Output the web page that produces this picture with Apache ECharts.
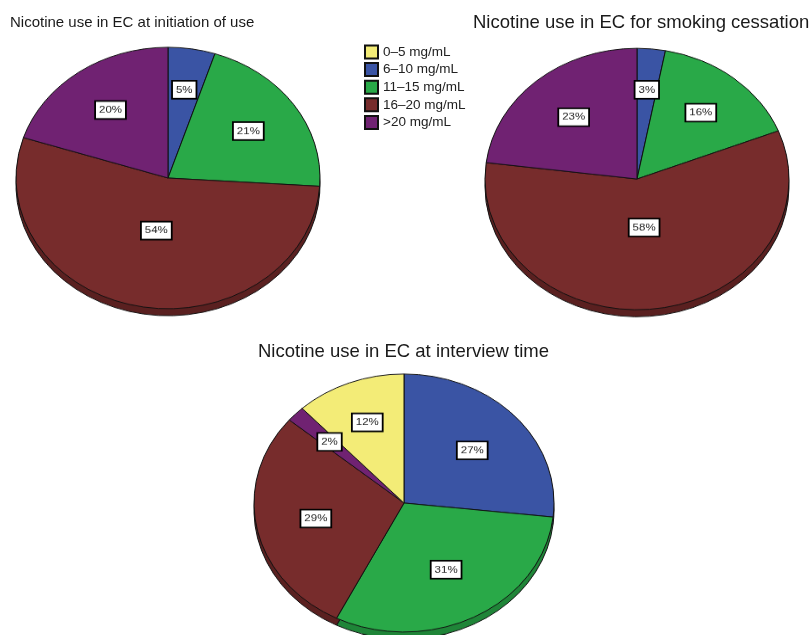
<!DOCTYPE html>
<html>
<head>
<meta charset="utf-8">
<script src="https://cdn.jsdelivr.net/npm/echarts@6/dist/echarts.min.js"></script>
<style>
  html, body { margin: 0; padding: 0; background: #fff; }
  #wrap { position: relative; width: 811px; height: 635px; overflow: hidden; }
  #base { position: absolute; left: 0; top: 0; width: 811px; height: 635px; }
  #pies { position: absolute; left: 0; top: 0; width: 811px; transform-origin: 0 0; }
</style>
</head>
<body>
<div id="wrap">
  <div id="base"></div>
  <div id="pies"></div>
</div>
<script>
// Nicotine concentration groups (legend order)
const categories = ['0–5 mg/mL', '6–10 mg/mL', '11–15 mg/mL', '16–20 mg/mL', '>20 mg/mL'];

// Percent of users in each group, same order as categories
const initiationValues = [0, 5, 21, 54, 20];
const cessationValues  = [0, 3, 16, 58, 23];
const interviewValues  = [12, 27, 31, 29, 2];

const titles = [
  'Nicotine use in EC at initiation of use',
  'Nicotine use in EC for smoking cessation',
  'Nicotine use in EC at interview time'
];

// Slices run clockwise from 12 o'clock in this group order
const sliceOrder = [1, 2, 3, 4, 0];

const colors    = ['#f3ec77', '#3a54a4', '#29a948', '#772c2c', '#702272'];
const rimColors = ['#c9c260', '#2c4080', '#1f8538', '#5a2020', '#561a57'];

const FONT = '"Liberation Sans", Arial, Helvetica, sans-serif';

// Pies are drawn as tilted discs: the pie layer is squashed vertically.
const SQUASH = 0.86;
const RIM = 7; // visible thickness of the disc edge, px on screen
const pieLayout = [
  { values: initiationValues, cx: 168, cy: 178, r: 152 },
  { values: cessationValues,  cx: 637, cy: 179, r: 152 },
  { values: interviewValues,  cx: 404, cy: 503, r: 150 }
];

const pieDiv = document.getElementById('pies');
pieDiv.style.height = Math.round(635 / SQUASH) + 'px';
pieDiv.style.transform = 'scaleY(' + SQUASH + ')';

// Items for one pie, in drawing order, skipping empty groups
function pieItems(values) {
  return sliceOrder
    .filter(i => values[i] > 0)
    .map(i => ({ name: categories[i], value: values[i], idx: i }));
}

// Shift each label from mid-radius to the centroid of its sector
function centroidShifts(items, r) {
  const total = items.reduce((s, d) => s + d.value, 0);
  let acc = 0;
  return items.map(d => {
    const f0 = acc / total;
    acc += d.value;
    const f1 = acc / total;
    const theta = Math.PI * (f0 + f1);
    const half = Math.PI * d.value / total;
    const dist = half > 1e-6 ? (2 / 3) * Math.sin(half) / half : 2 / 3;
    const k = (dist - 0.5) * r;
    return { dx: k * Math.sin(theta), dy: -k * Math.cos(theta) };
  });
}

const pieSeries = [];
pieLayout.forEach((p, n) => {
  const items = pieItems(p.values);
  const shifts = centroidShifts(items, p.r);
  const center = [p.cx, p.cy / SQUASH];

  // disc edge, seen below the top face
  pieSeries.push({
    type: 'pie',
    silent: true,
    animation: false,
    center: [center[0], center[1] + RIM / SQUASH],
    radius: [0, p.r],
    startAngle: 90,
    clockwise: true,
    label: { show: false },
    labelLine: { show: false },
    itemStyle: { borderColor: '#111', borderWidth: 1 },
    data: items.map(d => ({ name: d.name, value: d.value, itemStyle: { color: rimColors[d.idx] } }))
  });

  // top face with value labels
  pieSeries.push({
    type: 'pie',
    animation: false,
    center: center,
    radius: [0, p.r],
    startAngle: 90,
    clockwise: true,
    avoidLabelOverlap: false,
    itemStyle: { borderColor: '#111', borderWidth: 1 },
    label: {
      show: true,
      position: 'inside',
      formatter: '{c}%',
      fontFamily: FONT,
      fontSize: 11.5,
      color: '#222',
      backgroundColor: '#fff',
      borderColor: '#000',
      borderWidth: 1.8,
      padding: [4, 3, 3, 3]
    },
    labelLine: { show: false },
    labelLayout: params => shifts[params.dataIndex],
    emphasis: { disabled: true },
    data: items.map(d => ({ name: d.name, value: d.value, itemStyle: { color: colors[d.idx] } }))
  });
});

const pieChart = echarts.init(pieDiv, null, { renderer: 'canvas' });
pieChart.setOption({ animation: false, series: pieSeries });

// Titles and the shared legend
const legendX = 365, legendY = 52, legendStep = 17.6, box = 13;
const legendGraphics = [];
categories.forEach((c, i) => {
  const y = legendY + i * legendStep;
  legendGraphics.push({
    type: 'rect',
    shape: { x: legendX, y: y - box / 2, width: box, height: box },
    style: { fill: colors[i], stroke: '#111', lineWidth: 2 }
  });
  legendGraphics.push({
    type: 'text',
    x: legendX + box + 5,
    y: y,
    style: { text: c, font: '13.5px ' + FONT, fill: '#222', textVerticalAlign: 'middle' }
  });
});

const baseChart = echarts.init(document.getElementById('base'), null, { renderer: 'canvas' });
baseChart.setOption({
  backgroundColor: '#fff',
  animation: false,
  title: [
    { text: titles[0], left: 10, top: 15, padding: 0,
      textStyle: { fontFamily: FONT, fontSize: 15, fontWeight: 'normal', color: '#1a1a1a' } },
    { text: titles[1], left: 473, top: 13, padding: 0,
      textStyle: { fontFamily: FONT, fontSize: 18.5, fontWeight: 'normal', color: '#1a1a1a' } },
    { text: titles[2], left: 258, top: 342, padding: 0,
      textStyle: { fontFamily: FONT, fontSize: 18.5, fontWeight: 'normal', color: '#1a1a1a' } }
  ],
  graphic: legendGraphics
});
</script>
</body>
</html>
